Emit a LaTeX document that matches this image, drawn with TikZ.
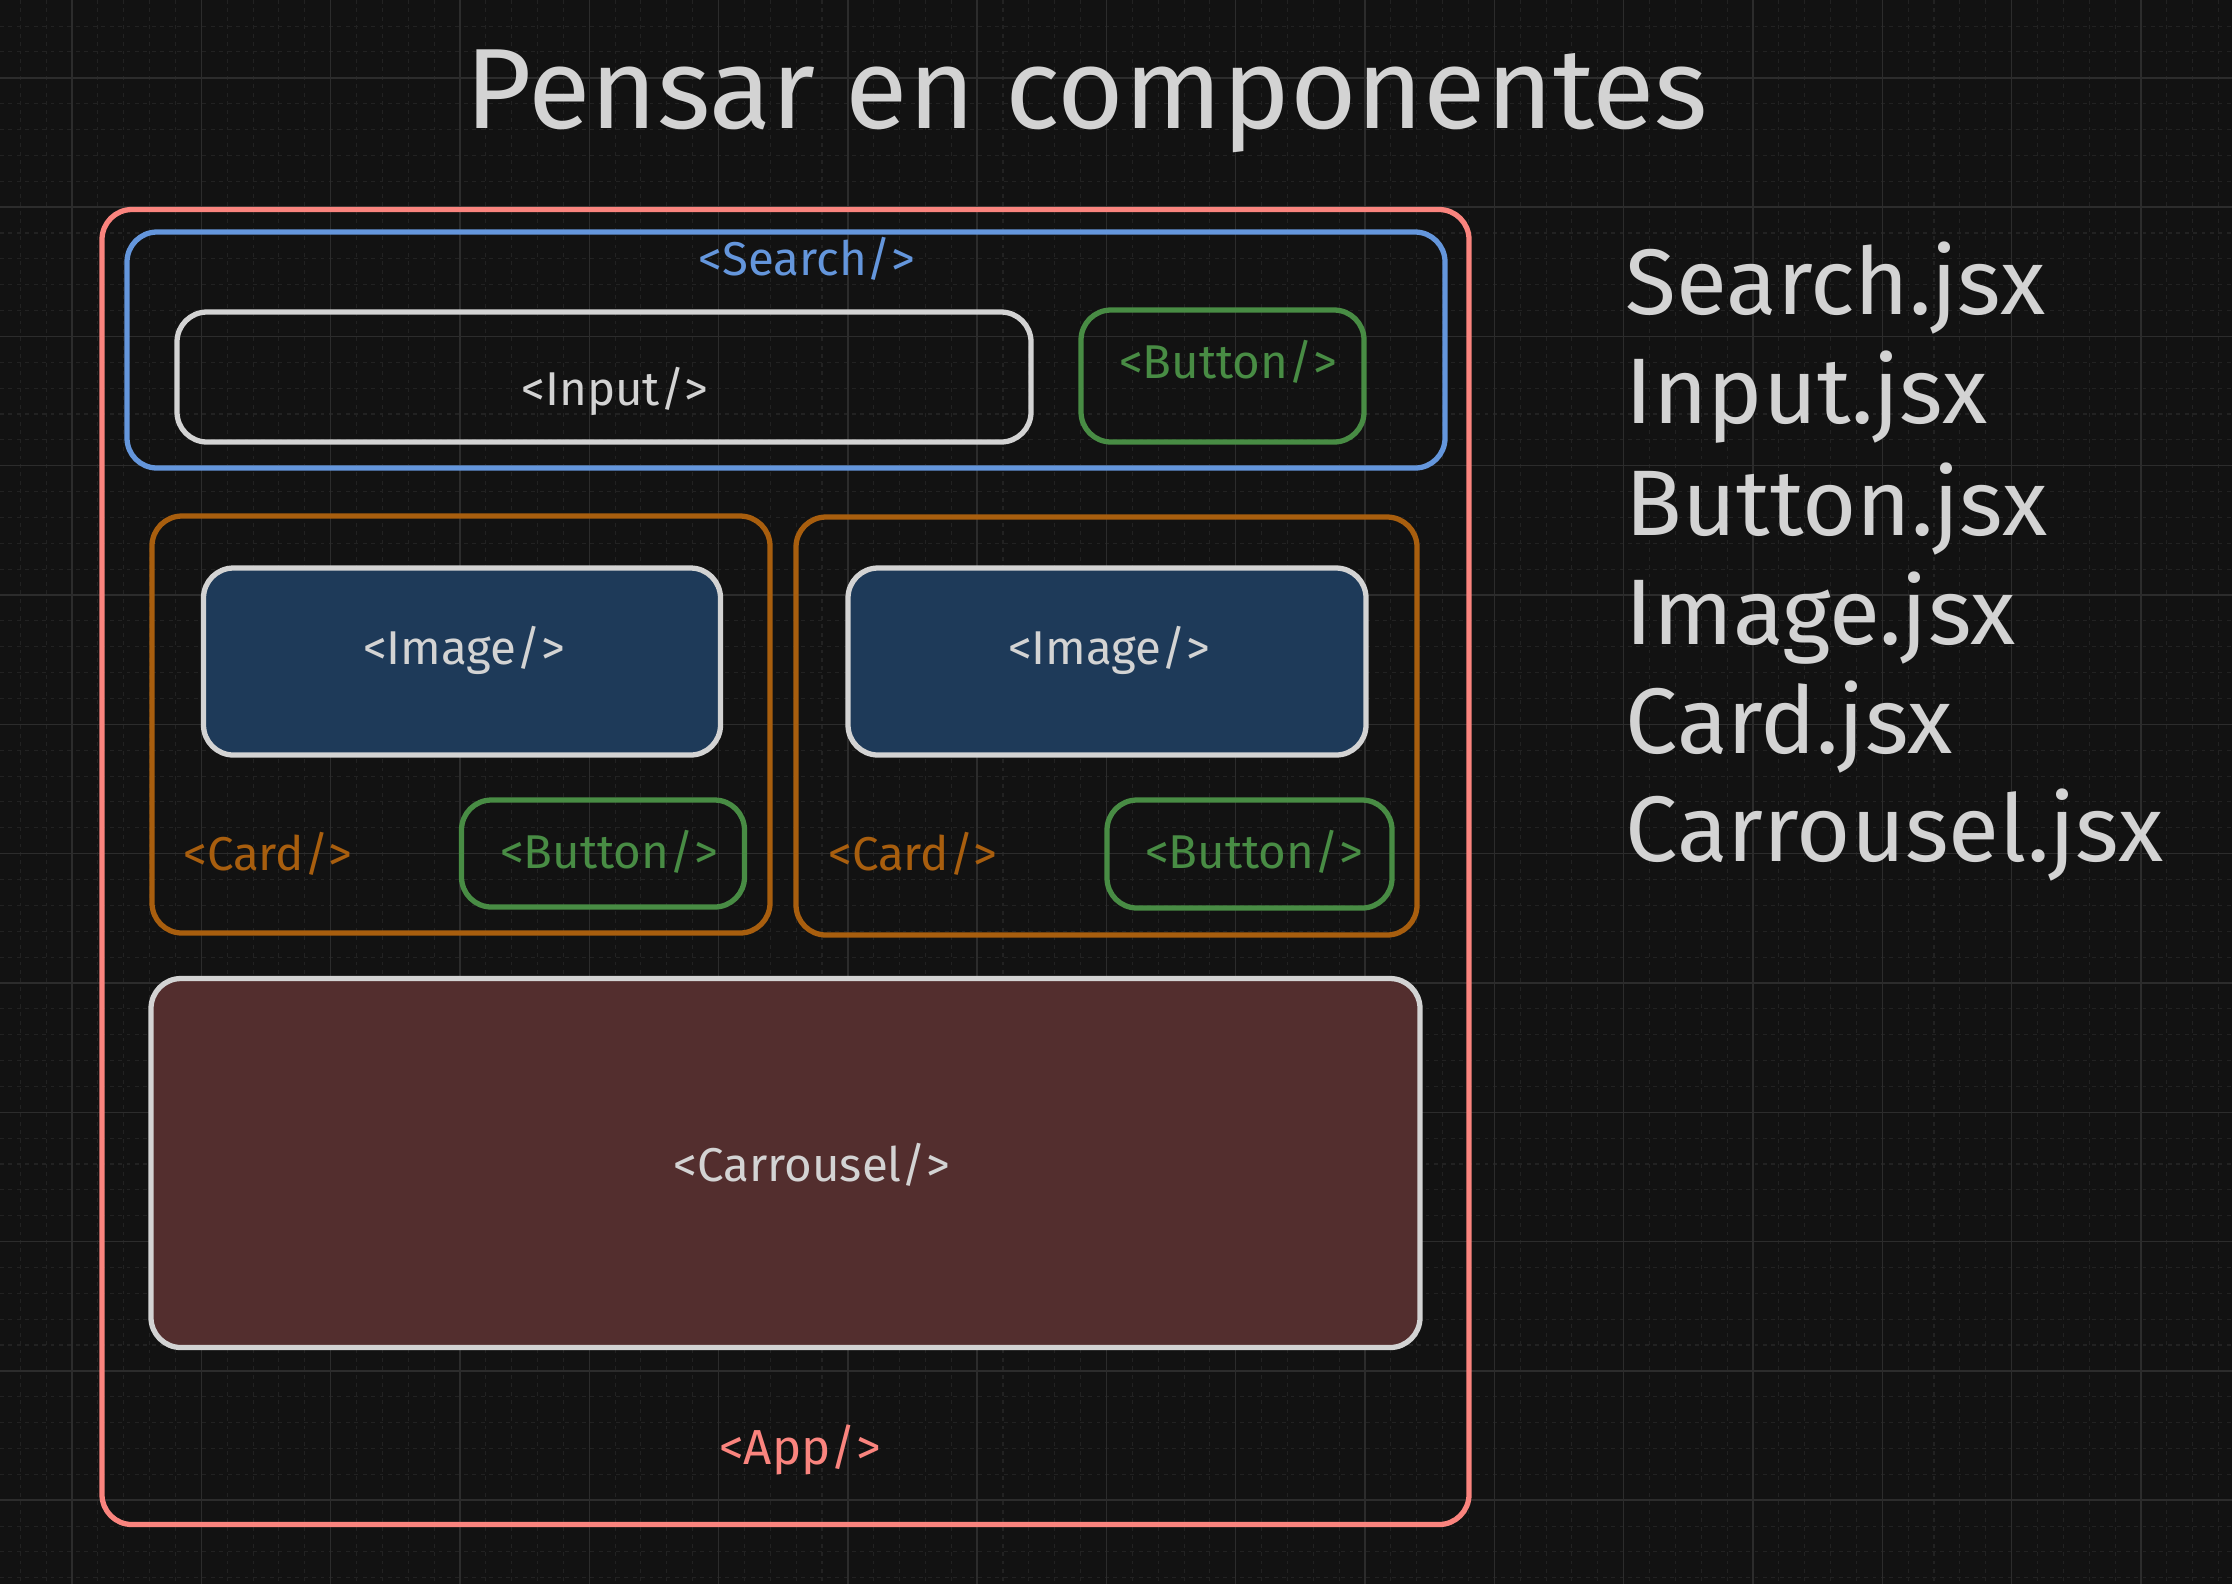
\documentclass[tikz,border=0pt]{standalone}
\usepackage{fontspec}
\setmainfont{Fira Sans}
\usepackage{tikz}
\usetikzlibrary{positioning}
\definecolor{canvas}{RGB}{18,18,18}
\definecolor{gridmajor}{RGB}{44,44,44}
\definecolor{gridminor}{RGB}{34,34,34}
\definecolor{appred}{RGB}{250,132,126}
\definecolor{searchblue}{RGB}{100,150,220}
\definecolor{btngreen}{RGB}{72,140,68}
\definecolor{cardorange}{RGB}{168,94,14}
\definecolor{inkgray}{RGB}{211,211,211}
\definecolor{imagefill}{RGB}{30,58,89}
\definecolor{carrfill}{RGB}{83,46,46}
\tikzstyle{box} = [rectangle, draw, line width=1.5pt, rounded corners=0.3cm, inner sep=0pt]
\tikzstyle{tag} = [inner sep=0pt, anchor=base, font=\fontsize{13.5}{16}\selectfont]
\tikzstyle{file} = [inner sep=0pt, anchor=base west, text=inkgray, font=\fontsize{26.5}{32}\selectfont]
\tikzstyle{heading} = [inner sep=0pt, anchor=base, text=inkgray, font=\fontsize{32.5}{40}\selectfont]
\tikzset{minorgrid/.style = {gridminor, line width=0.3pt, dash pattern=on 1.1pt off 1.3pt},
  majorgrid/.style = {gridmajor, line width=0.4pt}
}

\begin{document}
\begin{tikzpicture}[y=-1cm]
            \fill[canvas] (0,0) rectangle (22.32,15.84);
            \useasboundingbox (0,0) rectangle (22.32,15.84);

            % grid
            \foreach \i in {0,...,85} \draw[minorgrid] ({0.203+\i*0.2586},0) -- ++(0,15.84);
            \foreach \i in {0,...,60} \draw[minorgrid] (0,{0.261+\i*0.2586}) -- ++(22.32,0);
            \foreach \i in {0,...,16} \draw[majorgrid] ({0.72+\i*1.293},0) -- ++(0,15.84);
            \foreach \i in {0,...,11} \draw[majorgrid] (0,{0.778+\i*1.293}) -- ++(22.32,0);

            \node[heading] (title) at (10.865,1.28) {Pensar en componentes};

            % components
            \node[box, appred, minimum width=13.67cm, minimum height=13.15cm] (app) at (7.855,8.67) {};
            \node[box, searchblue, minimum width=13.18cm, minimum height=2.36cm] (search) at (7.86,3.50) {};
            \node[box, inkgray, minimum width=8.54cm, minimum height=1.30cm] (input) at (6.04,3.77) {};
            \node[box, btngreen, minimum width=2.83cm, minimum height=1.32cm] (searchbtn) at (12.225,3.76) {};

            \node[box, cardorange, minimum width=6.18cm, minimum height=4.17cm] (card1) at (4.61,7.245) {};
            \node[box, cardorange, minimum width=6.21cm, minimum height=4.18cm] (card2) at (11.065,7.26) {};
            \node[box, inkgray, fill=imagefill, minimum width=5.17cm, minimum height=1.87cm] (image1) at (4.62,6.615) {};
            \node[box, inkgray, fill=imagefill, minimum width=5.18cm, minimum height=1.87cm] (image2) at (11.07,6.615) {};
            \node[box, btngreen, minimum width=2.83cm, minimum height=1.07cm] (cardbtn1) at (6.03,8.535) {};
            \node[box, btngreen, minimum width=2.85cm, minimum height=1.08cm] (cardbtn2) at (12.495,8.54) {};

            \node[box, inkgray, fill=carrfill, minimum width=12.69cm, minimum height=3.69cm] (carrousel) at (7.855,11.63) {};

            % tags
            \node[tag, text=searchblue] (searchtag) at (8.07,2.75) {<Search/>};
            \node[tag, text=inkgray] (inputtag) at (6.15,4.05) {<Input/>};
            \node[tag, text=btngreen] (searchbtntag) at (12.28,3.78) {<Button/>};
            \node[tag, text=inkgray] (imagetag1) at (4.64,6.64) {<Image/>};
            \node[tag, text=inkgray] (imagetag2) at (11.09,6.64) {<Image/>};
            \node[tag, text=cardorange] (cardtag1) at (2.68,8.70) {<Card/>};
            \node[tag, text=cardorange] (cardtag2) at (9.13,8.70) {<Card/>};
            \node[tag, text=btngreen] (cardbtntag1) at (6.09,8.68) {<Button/>};
            \node[tag, text=btngreen] (cardbtntag2) at (12.54,8.68) {<Button/>};
            \node[tag, text=inkgray] (carrouseltag) at (8.12,11.81) {<Carrousel/>};
            \node[tag, text=appred, font=\fontsize{14}{17}\selectfont] (apptag) at (8.0,14.64) {<App/>};

            % files
            \node[file] (f1) at (16.25,3.14) {Search.jsx};
            \node[file] (f2) at (16.25,4.23) {Input.jsx};
            \node[file] (f3) at (16.25,5.35) {Button.jsx};
            \node[file] (f4) at (16.25,6.44) {Image.jsx};
            \node[file] (f5) at (16.25,7.536) {Card.jsx};
            \node[file] (f6) at (16.25,8.61) {Carrousel.jsx};
\end{tikzpicture}
\end{document}
